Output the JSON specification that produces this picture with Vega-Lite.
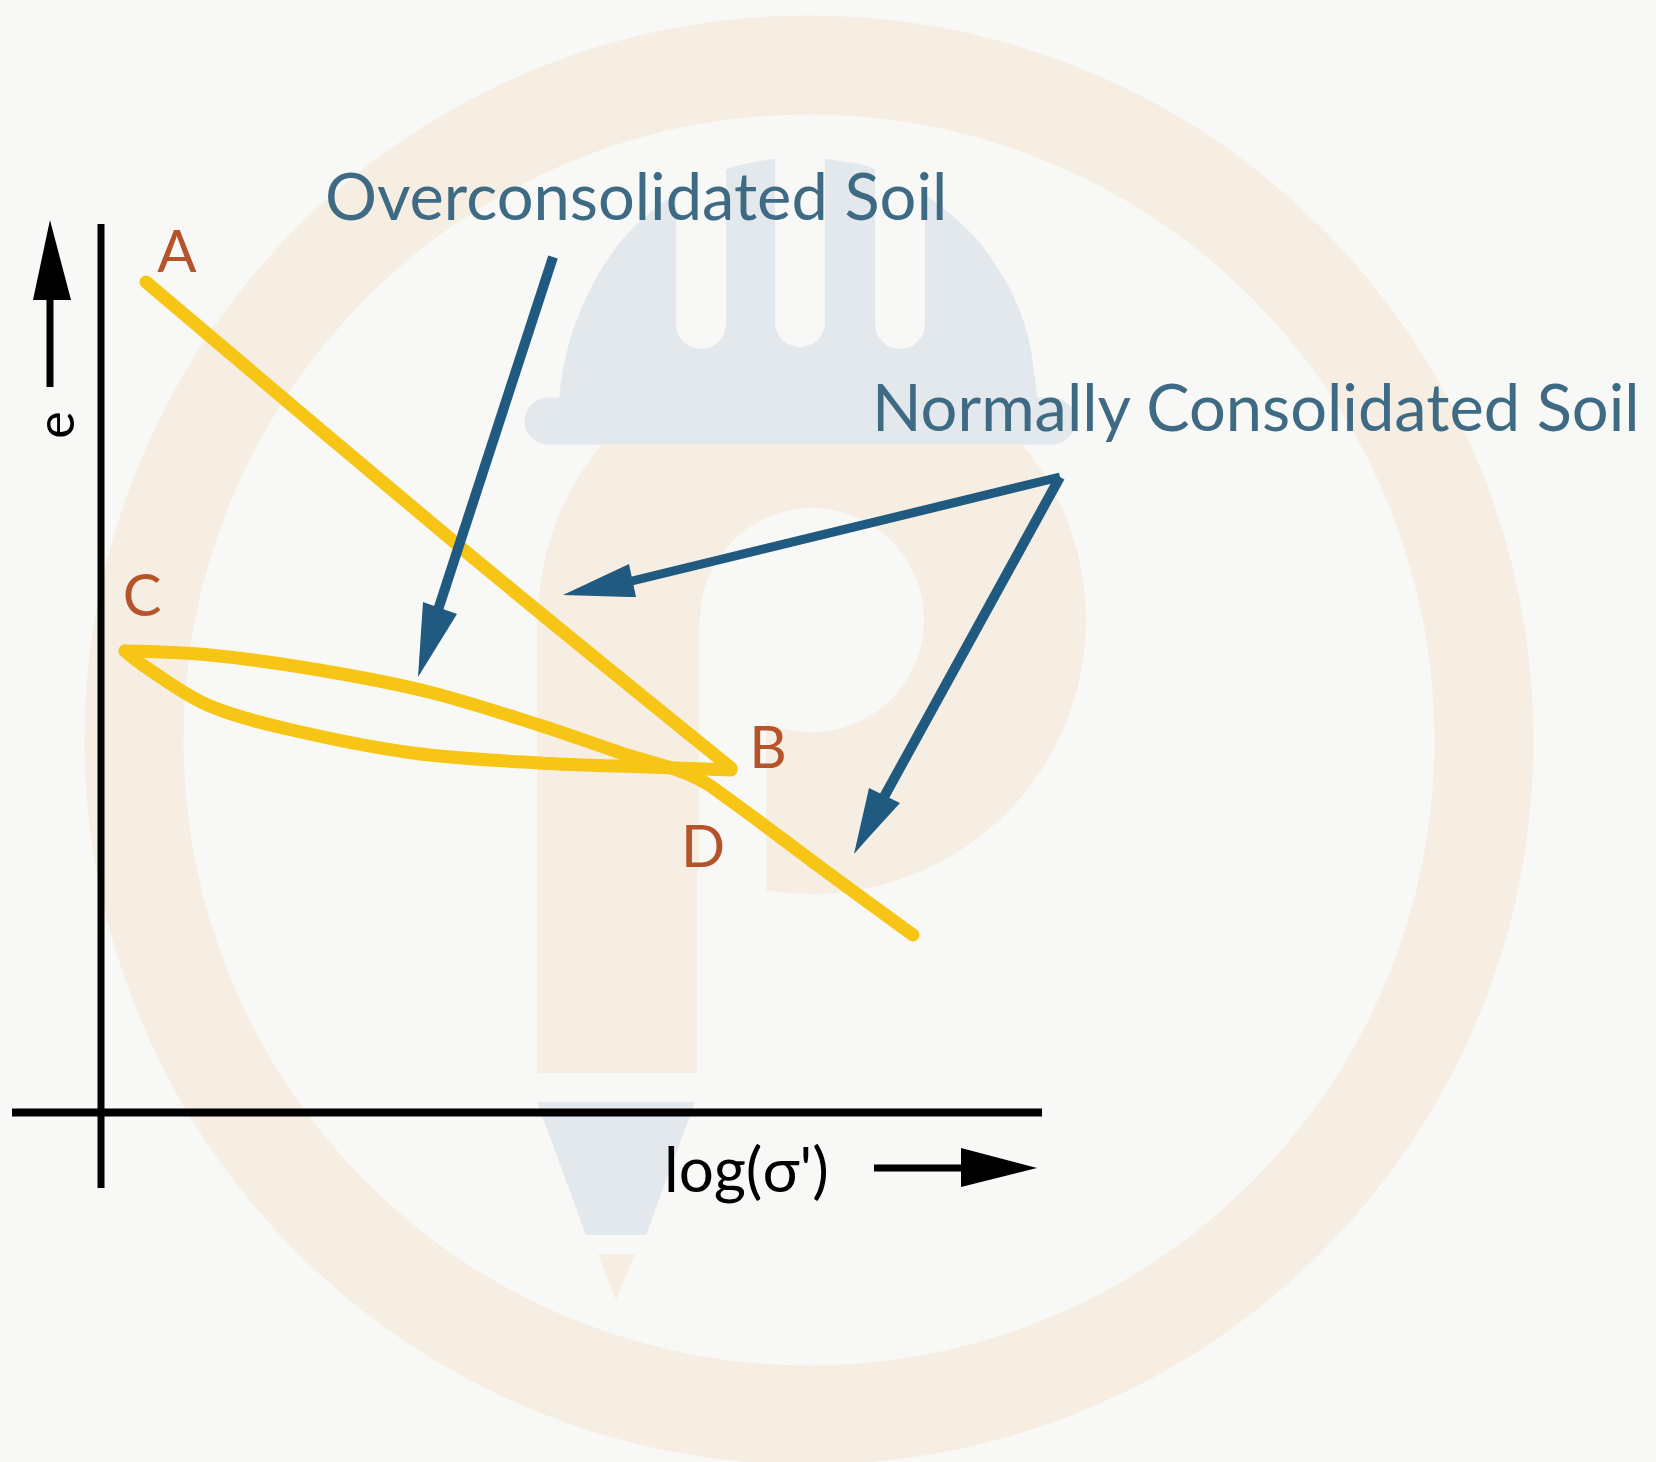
{"$schema":"https://vega.github.io/schema/vega-lite/v6.json","autosize":{"type":"none"},"width":1656,"height":1462,"padding":0,"background":"#f8f8f6","view":{"stroke":null},
"datasets":{
"ring":[{"x":809,"y":740}],
"bowl":[{"x":812,"y":620}],
"gap":[{"x":699,"x2":766,"y":620,"y2":900}],
"stem":[{"x":537,"x2":697,"y":620,"y2":1073}],
"dome":[{"x":558,"y":420,"y2":420},{"x":561,"y":382,"y2":420},{"x":570,"y":340,"y2":420},{"x":587,"y":296,"y2":420},{"x":610,"y":256,"y2":420},{"x":638,"y":223,"y2":420},{"x":680,"y":191,"y2":420},{"x":724,"y":170,"y2":420},{"x":760,"y":161,"y2":420},{"x":800,"y":157,"y2":420},{"x":840,"y":161,"y2":420},{"x":869,"y":167,"y2":420},{"x":920,"y":191,"y2":420},{"x":972,"y":234,"y2":420},{"x":1000,"y":272,"y2":420},{"x":1016,"y":302,"y2":420},{"x":1030,"y":345,"y2":420},{"x":1040,"y":420,"y2":420}],
"brim":[{"id":"brim","i":1,"x":548,"y":421},{"id":"brim","i":2,"x":1052,"y":421}],
"slots":[{"id":"s1","i":1,"x":701,"y":150},{"id":"s1","i":2,"x":701,"y":324},{"id":"s2","i":1,"x":800,"y":150},{"id":"s2","i":2,"x":800,"y":322},{"id":"s3","i":1,"x":900,"y":150},{"id":"s3","i":2,"x":900,"y":324}],
"cone":[{"x":537,"y":1102,"y2":1102},{"x":586,"y":1102,"y2":1235},{"x":646,"y":1102,"y2":1235},{"x":695,"y":1102,"y2":1102}],
"tip":[{"x":598,"y":1254,"y2":1254},{"x":616,"y":1254,"y2":1300},{"x":635,"y":1254,"y2":1254}],
"axes":[{"id":"v","i":1,"x":101,"y":224},{"id":"v","i":2,"x":101,"y":1188},{"id":"u","i":1,"x":50,"y":387},{"id":"u","i":2,"x":50,"y":295},{"id":"r","i":1,"x":874,"y":1168},{"id":"r","i":2,"x":965,"y":1168}],
"axisH":[{"id":"h","i":1,"x":12,"y":1112.5},{"id":"h","i":2,"x":1042,"y":1112.5}],
"blackHeads":[{"id":"u","x":33,"y":300,"y2":300},{"id":"u","x":50,"y":220,"y2":300},{"id":"u","x":71,"y":300,"y2":300},{"id":"r","x":961,"y":1148,"y2":1187},{"id":"r","x":1037,"y":1168,"y2":1168}],
"curve":[
{"id":"AB","i":1,"x":146,"y":282},{"id":"AB","i":2,"x":459,"y":546},{"id":"AB","i":3,"x":731,"y":768},
{"id":"BC","i":1,"x":731,"y":770},{"id":"BC","i":2,"x":648,"y":767},{"id":"BC","i":3,"x":539,"y":763},{"id":"BC","i":4,"x":413,"y":753},{"id":"BC","i":5,"x":292,"y":730},{"id":"BC","i":6,"x":210,"y":706},{"id":"BC","i":7,"x":150,"y":670},{"id":"BC","i":8,"x":125,"y":651},
{"id":"CE","i":1,"x":125,"y":651},{"id":"CE","i":2,"x":210,"y":655},{"id":"CE","i":3,"x":319,"y":670},{"id":"CE","i":4,"x":429,"y":692},{"id":"CE","i":5,"x":539,"y":725},{"id":"CE","i":6,"x":621,"y":753},{"id":"CE","i":7,"x":690,"y":775},{"id":"CE","i":8,"x":734,"y":803},{"id":"CE","i":9,"x":820,"y":867},{"id":"CE","i":10,"x":913,"y":935}],
"shafts":[{"id":"a1","i":1,"x":553,"y":257},{"id":"a1","i":2,"x":438,"y":610},{"id":"a3","i":1,"x":1060,"y":477},{"id":"a3","i":2,"x":884,"y":797}],
"shaftThin":[{"id":"a2","i":1,"x":1060,"y":477},{"id":"a2","i":2,"x":632,"y":581}],
"blueHeads":[{"id":"a1","x":418,"y":677,"y2":677},{"id":"a1","x":423,"y":602,"y2":669},{"id":"a1","x":457,"y":614,"y2":614},{"id":"a2","x":563,"y":595,"y2":595},{"id":"a2","x":629,"y":564,"y2":597},{"id":"a2","x":636,"y":597,"y2":597},{"id":"a3","x":854,"y":854,"y2":854},{"id":"a3","x":869,"y":788,"y2":837},{"id":"a3","x":900,"y":803,"y2":803}],
"blueText":[{"x":325,"y":220,"t":"Overconsolidated Soil"},{"x":872,"y":431,"t":"Normally Consolidated Soil"}],
"pts":[{"x":177,"y":272,"t":"A"},{"x":142,"y":616,"t":"C"},{"x":768,"y":768,"t":"B"},{"x":703,"y":867,"t":"D"}],
"logt":[{"x":664,"y":1192,"t":"log(σ')"}],
"et":[{"x":58,"y":425,"t":"e"}]
},
"encoding":{"x":{"field":"x","type":"quantitative","scale":{"domain":[0,1656],"nice":false,"zero":false},"axis":null},"y":{"field":"y","type":"quantitative","scale":{"domain":[1462,0],"nice":false,"zero":false},"axis":null}},
"layer":[
{"data":{"name":"ring"},"mark":{"type":"point","filled":false,"clip":true,"shape":"circle","size":1822500,"stroke":"#f6eee2","strokeWidth":99,"opacity":1}},
{"data":{"name":"bowl"},"mark":{"type":"point","filled":false,"shape":"circle","size":148996,"stroke":"#f6eee2","strokeWidth":162,"opacity":1}},
{"data":{"name":"gap"},"mark":{"type":"rect","fill":"#f8f8f6"},"encoding":{"x2":{"field":"x2"},"y2":{"field":"y2"}}},
{"data":{"name":"stem"},"mark":{"type":"rect","fill":"#f6eee2"},"encoding":{"x2":{"field":"x2"},"y2":{"field":"y2"}}},
{"data":{"name":"tip"},"mark":{"type":"area","orient":"vertical","fill":"#f6eee2"},"encoding":{"y2":{"field":"y2"}}},
{"data":{"name":"dome"},"mark":{"type":"area","orient":"vertical","fill":"#e3e8ec","interpolate":"cardinal"},"encoding":{"y2":{"field":"y2"}}},
{"data":{"name":"brim"},"mark":{"type":"line","stroke":"#e3e8ec","strokeWidth":47,"strokeCap":"round"},"encoding":{"detail":{"field":"id"},"order":{"field":"i"}}},
{"data":{"name":"slots"},"mark":{"type":"line","stroke":"#f8f8f6","strokeWidth":50,"strokeCap":"round"},"encoding":{"detail":{"field":"id"},"order":{"field":"i"}}},
{"data":{"name":"cone"},"mark":{"type":"area","orient":"vertical","fill":"#e3e8ec"},"encoding":{"y2":{"field":"y2"}}},
{"data":{"name":"axes"},"mark":{"type":"line","stroke":"#000000","strokeWidth":7},"encoding":{"detail":{"field":"id"},"order":{"field":"i"}}},
{"data":{"name":"axisH"},"mark":{"type":"line","stroke":"#000000","strokeWidth":8},"encoding":{"detail":{"field":"id"},"order":{"field":"i"}}},
{"data":{"name":"blackHeads"},"mark":{"type":"area","orient":"vertical","fill":"#000000"},"encoding":{"y2":{"field":"y2"},"detail":{"field":"id"}}},
{"data":{"name":"curve"},"mark":{"type":"line","stroke":"#f6c516","strokeWidth":13,"strokeCap":"round","strokeJoin":"round","interpolate":"cardinal"},"encoding":{"detail":{"field":"id"},"order":{"field":"i"}}},
{"data":{"name":"shafts"},"mark":{"type":"line","stroke":"#215a80","strokeWidth":10},"encoding":{"detail":{"field":"id"},"order":{"field":"i"}}},
{"data":{"name":"shaftThin"},"mark":{"type":"line","stroke":"#215a80","strokeWidth":9},"encoding":{"detail":{"field":"id"},"order":{"field":"i"}}},
{"data":{"name":"blueHeads"},"mark":{"type":"area","orient":"vertical","fill":"#215a80"},"encoding":{"y2":{"field":"y2"},"detail":{"field":"id"}}},
{"data":{"name":"blueText"},"mark":{"type":"text","font":"Lato","fontSize":65,"align":"left","baseline":"alphabetic","fill":"#3f6a84"},"encoding":{"text":{"field":"t"}}},
{"data":{"name":"pts"},"mark":{"type":"text","font":"Lato","fontSize":58,"align":"center","baseline":"alphabetic","fill":"#b5532a"},"encoding":{"text":{"field":"t"}}},
{"data":{"name":"logt"},"mark":{"type":"text","font":"Lato","fontSize":62,"align":"left","baseline":"alphabetic","fill":"#000000"},"encoding":{"text":{"field":"t"}}},
{"data":{"name":"et"},"mark":{"type":"text","font":"Lato","fontSize":52,"angle":270,"align":"center","baseline":"middle","fill":"#000000"},"encoding":{"text":{"field":"t"}}}
]}
